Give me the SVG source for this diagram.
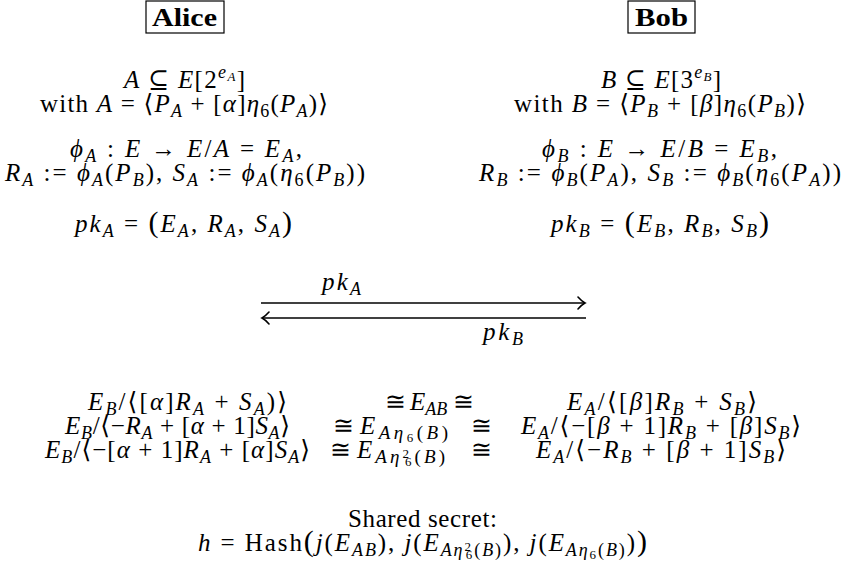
<svg xmlns="http://www.w3.org/2000/svg" width="848" height="578" viewBox="0 0 848 578">
<style>
.t{font-family:"Liberation Serif","DejaVu Serif",serif;font-size:25px;fill:#000}
.bd{font-weight:bold}
.i{font-style:italic}
.b{font-size:18px}
.b2{font-size:19px}
.c{font-size:13px}
.big{font-size:30px}
.box{fill:#fff;stroke:#000;stroke-width:1.2}
.ln{stroke:#000;stroke-width:1.6;fill:none}
</style>
<defs>
<marker id="ah" viewBox="-10 -7 12 14" refX="0" refY="0" markerWidth="12" markerHeight="14" markerUnits="userSpaceOnUse" orient="auto-start-reverse">
<path d="M-7,-6 Q-3,-1.5 0,0 Q-3,1.5 -7,6" fill="none" stroke="#000" stroke-width="1.6" stroke-linecap="round"/>
</marker>
</defs>
<rect width="848" height="578" fill="#fff"/>

<g id="alice">
<rect class="box" x="146" y="1" width="78" height="32"/>
<text class="t bd" x="152" y="26" textLength="65" lengthAdjust="spacingAndGlyphs">Alice</text>
<text class="t" x="124" y="88" textLength="121" lengthAdjust="spacing"><tspan class="i">A</tspan> ⊆ <tspan class="i">E</tspan>[2<tspan class="b i" dy="-10">e</tspan><tspan class="c i" dy="3">A</tspan><tspan dy="7">]</tspan></text>
<text class="t" x="40" y="112" textLength="288" lengthAdjust="spacing">with <tspan class="i">A</tspan> = ⟨<tspan class="i">P</tspan><tspan class="b i" dy="5">A</tspan><tspan dy="-5"> + [</tspan><tspan class="i">α</tspan>]<tspan class="i">η</tspan><tspan class="b" dy="5">6</tspan><tspan dy="-5">(</tspan><tspan class="i">P</tspan><tspan class="b i" dy="5">A</tspan><tspan dy="-5">)⟩</tspan></text>
<text class="t" x="70" y="157" textLength="232" lengthAdjust="spacing"><tspan class="i">ϕ</tspan><tspan class="b i" dy="5">A</tspan><tspan dy="-5"> : </tspan><tspan class="i">E</tspan> → <tspan class="i">E</tspan>/<tspan class="i">A</tspan> = <tspan class="i">E</tspan><tspan class="b i" dy="5">A</tspan><tspan dy="-5">,</tspan></text>
<text class="t" x="5" y="181" textLength="360" lengthAdjust="spacing"><tspan class="i">R</tspan><tspan class="b i" dy="5">A</tspan><tspan dy="-5"> := </tspan><tspan class="i">ϕ</tspan><tspan class="b i" dy="5">A</tspan><tspan dy="-5">(</tspan><tspan class="i">P</tspan><tspan class="b i" dy="5">B</tspan><tspan dy="-5">), </tspan><tspan class="i">S</tspan><tspan class="b i" dy="5">A</tspan><tspan dy="-5"> := </tspan><tspan class="i">ϕ</tspan><tspan class="b i" dy="5">A</tspan><tspan dy="-5">(</tspan><tspan class="i">η</tspan><tspan class="b" dy="5">6</tspan><tspan dy="-5">(</tspan><tspan class="i">P</tspan><tspan class="b i" dy="5">B</tspan><tspan dy="-5">))</tspan></text>
<text class="t" x="75" y="232" textLength="217" lengthAdjust="spacing"><tspan class="i">pk</tspan><tspan class="b i" dy="5">A</tspan><tspan dy="-5"> = </tspan><tspan class="big">(</tspan><tspan class="i">E</tspan><tspan class="b i" dy="5">A</tspan><tspan dy="-5">, </tspan><tspan class="i">R</tspan><tspan class="b i" dy="5">A</tspan><tspan dy="-5">, </tspan><tspan class="i">S</tspan><tspan class="b i" dy="5">A</tspan><tspan class="big" dy="-5">)</tspan></text>
</g>

<g id="bob">
<rect class="box" x="628" y="1" width="67" height="32"/>
<text class="t bd" x="635" y="26" textLength="53" lengthAdjust="spacingAndGlyphs">Bob</text>
<text class="t" x="601" y="88" textLength="120" lengthAdjust="spacing"><tspan class="i">B</tspan> ⊆ <tspan class="i">E</tspan>[3<tspan class="b i" dy="-10">e</tspan><tspan class="c i" dy="3">B</tspan><tspan dy="7">]</tspan></text>
<text class="t" x="514" y="112" textLength="292" lengthAdjust="spacing">with <tspan class="i">B</tspan> = ⟨<tspan class="i">P</tspan><tspan class="b i" dy="5">B</tspan><tspan dy="-5"> + [</tspan><tspan class="i">β</tspan>]<tspan class="i">η</tspan><tspan class="b" dy="5">6</tspan><tspan dy="-5">(</tspan><tspan class="i">P</tspan><tspan class="b i" dy="5">B</tspan><tspan dy="-5">)⟩</tspan></text>
<text class="t" x="542" y="157" textLength="235" lengthAdjust="spacing"><tspan class="i">ϕ</tspan><tspan class="b i" dy="5">B</tspan><tspan dy="-5"> : </tspan><tspan class="i">E</tspan> → <tspan class="i">E</tspan>/<tspan class="i">B</tspan> = <tspan class="i">E</tspan><tspan class="b i" dy="5">B</tspan><tspan dy="-5">,</tspan></text>
<text class="t" x="479" y="181" textLength="362" lengthAdjust="spacing"><tspan class="i">R</tspan><tspan class="b i" dy="5">B</tspan><tspan dy="-5"> := </tspan><tspan class="i">ϕ</tspan><tspan class="b i" dy="5">B</tspan><tspan dy="-5">(</tspan><tspan class="i">P</tspan><tspan class="b i" dy="5">A</tspan><tspan dy="-5">), </tspan><tspan class="i">S</tspan><tspan class="b i" dy="5">B</tspan><tspan dy="-5"> := </tspan><tspan class="i">ϕ</tspan><tspan class="b i" dy="5">B</tspan><tspan dy="-5">(</tspan><tspan class="i">η</tspan><tspan class="b" dy="5">6</tspan><tspan dy="-5">(</tspan><tspan class="i">P</tspan><tspan class="b i" dy="5">A</tspan><tspan dy="-5">))</tspan></text>
<text class="t" x="551" y="232" textLength="218" lengthAdjust="spacing"><tspan class="i">pk</tspan><tspan class="b i" dy="5">B</tspan><tspan dy="-5"> = </tspan><tspan class="big">(</tspan><tspan class="i">E</tspan><tspan class="b i" dy="5">B</tspan><tspan dy="-5">, </tspan><tspan class="i">R</tspan><tspan class="b i" dy="5">B</tspan><tspan dy="-5">, </tspan><tspan class="i">S</tspan><tspan class="b i" dy="5">B</tspan><tspan class="big" dy="-5">)</tspan></text>
</g>

<g id="connectors">
<line class="ln" x1="261" y1="303" x2="585" y2="303" marker-end="url(#ah)"/>
<line class="ln" x1="586" y1="318" x2="262" y2="318" marker-end="url(#ah)"/>
<text class="t" x="322" y="290" textLength="39" lengthAdjust="spacing"><tspan class="i">pk</tspan><tspan class="b i" dy="5">A</tspan></text>
<text class="t" x="483" y="340" textLength="40" lengthAdjust="spacing"><tspan class="i">pk</tspan><tspan class="b i" dy="5">B</tspan></text>
</g>

<g id="isomorphisms">
<text class="t" x="88" y="410" textLength="199" lengthAdjust="spacing"><tspan class="i">E</tspan><tspan class="b i" dy="5">B</tspan><tspan dy="-5">/⟨[</tspan><tspan class="i">α</tspan>]<tspan class="i">R</tspan><tspan class="b i" dy="5">A</tspan><tspan dy="-5"> + </tspan><tspan class="i">S</tspan><tspan class="b i" dy="5">A</tspan><tspan dy="-5">)⟩</tspan></text>
<text class="t" x="65" y="434" textLength="225" lengthAdjust="spacing"><tspan class="i">E</tspan><tspan class="b i" dy="5">B</tspan><tspan dy="-5">/⟨−</tspan><tspan class="i">R</tspan><tspan class="b i" dy="5">A</tspan><tspan dy="-5"> + [</tspan><tspan class="i">α</tspan> + 1]<tspan class="i">S</tspan><tspan class="b i" dy="5">A</tspan><tspan dy="-5">⟩</tspan></text>
<text class="t" x="45" y="458" textLength="265" lengthAdjust="spacing"><tspan class="i">E</tspan><tspan class="b i" dy="5">B</tspan><tspan dy="-5">/⟨−[</tspan><tspan class="i">α</tspan> + 1]<tspan class="i">R</tspan><tspan class="b i" dy="5">A</tspan><tspan dy="-5"> + [</tspan><tspan class="i">α</tspan>]<tspan class="i">S</tspan><tspan class="b i" dy="5">A</tspan><tspan dy="-5">⟩</tspan></text>

<text class="t" x="385" y="410">≅</text>
<text class="t" x="410" y="410"><tspan class="i">E</tspan><tspan class="b i" dy="5">AB</tspan></text>
<text class="t" x="474" y="410" text-anchor="end">≅</text>

<text class="t" x="333" y="434">≅</text>
<text class="t" x="360" y="434" textLength="88" lengthAdjust="spacing"><tspan class="i">E</tspan><tspan class="b2 i" dy="5">Aη</tspan><tspan class="c" dy="3">6</tspan><tspan class="b2" dy="-3">(</tspan><tspan class="b2 i">B</tspan><tspan class="b2">)</tspan></text>
<text class="t" x="492" y="434" text-anchor="end">≅</text>

<text class="t" x="330" y="458">≅</text>
<text class="t" x="357" y="458" textLength="88" lengthAdjust="spacing"><tspan class="i">E</tspan><tspan class="b2 i" dy="5">Aη</tspan><tspan class="c" dy="-5">2</tspan><tspan class="c" dx="-7" dy="8">6</tspan><tspan class="b2" dy="-3">(</tspan><tspan class="b2 i">B</tspan><tspan class="b2">)</tspan></text>
<text class="t" x="492" y="458" text-anchor="end">≅</text>

<text class="t" x="567" y="410" textLength="190" lengthAdjust="spacing"><tspan class="i">E</tspan><tspan class="b i" dy="5">A</tspan><tspan dy="-5">/⟨[</tspan><tspan class="i">β</tspan>]<tspan class="i">R</tspan><tspan class="b i" dy="5">B</tspan><tspan dy="-5"> + </tspan><tspan class="i">S</tspan><tspan class="b i" dy="5">B</tspan><tspan dy="-5">⟩</tspan></text>
<text class="t" x="521" y="434" textLength="280" lengthAdjust="spacing"><tspan class="i">E</tspan><tspan class="b i" dy="5">A</tspan><tspan dy="-5">/⟨−[</tspan><tspan class="i">β</tspan> + 1]<tspan class="i">R</tspan><tspan class="b i" dy="5">B</tspan><tspan dy="-5"> + [</tspan><tspan class="i">β</tspan>]<tspan class="i">S</tspan><tspan class="b i" dy="5">B</tspan><tspan dy="-5">⟩</tspan></text>
<text class="t" x="536" y="458" textLength="250" lengthAdjust="spacing"><tspan class="i">E</tspan><tspan class="b i" dy="5">A</tspan><tspan dy="-5">/⟨−</tspan><tspan class="i">R</tspan><tspan class="b i" dy="5">B</tspan><tspan dy="-5"> + [</tspan><tspan class="i">β</tspan> + 1]<tspan class="i">S</tspan><tspan class="b i" dy="5">B</tspan><tspan dy="-5">⟩</tspan></text>
</g>

<g id="shared-secret">
<text class="t" x="348" y="527" textLength="149" lengthAdjust="spacing">Shared secret:</text>
<text class="t" x="198" y="551" textLength="449" lengthAdjust="spacing"><tspan class="i">h</tspan> = Hash<tspan class="big">(</tspan><tspan class="i">j</tspan>(<tspan class="i">E</tspan><tspan class="b i" dy="5">AB</tspan><tspan dy="-5">), </tspan><tspan class="i">j</tspan>(<tspan class="i">E</tspan><tspan class="b i" dy="5">Aη</tspan><tspan class="c" dy="-5">2</tspan><tspan class="c" dx="-7" dy="8">6</tspan><tspan class="b" dy="-3">(</tspan><tspan class="b i">B</tspan><tspan class="b">)</tspan><tspan dy="-5">), </tspan><tspan class="i">j</tspan>(<tspan class="i">E</tspan><tspan class="b i" dy="5">Aη</tspan><tspan class="c" dy="3">6</tspan><tspan class="b" dy="-3">(</tspan><tspan class="b i">B</tspan><tspan class="b">)</tspan><tspan dy="-5">)</tspan><tspan class="big">)</tspan></text>
</g>
</svg>
